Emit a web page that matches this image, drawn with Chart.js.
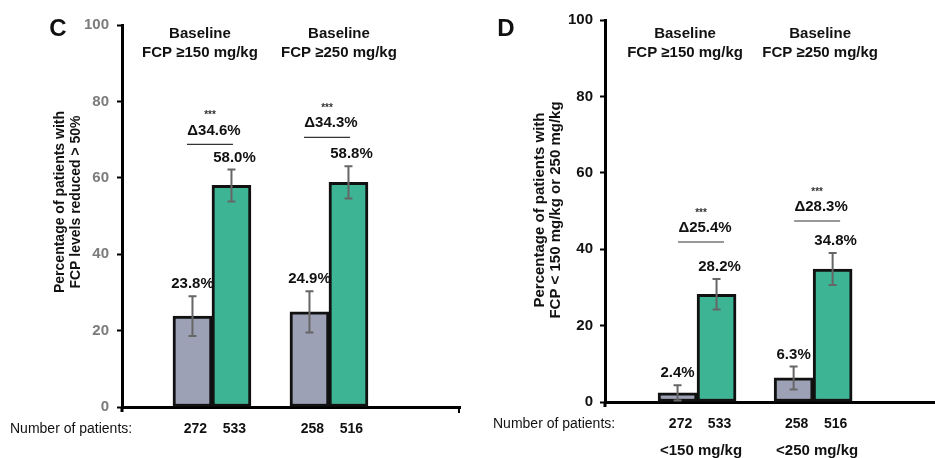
<!DOCTYPE html>
<html>
<head>
<meta charset="utf-8">
<script src="https://cdn.jsdelivr.net/npm/chart.js@4"></script>
<style>
  html, body { margin: 0; padding: 0; background: #fff; width: 935px; height: 458px; overflow: hidden; }
  canvas { position: absolute; top: 0; }
  #panelC { left: 0; }
  #panelD { left: 470px; }
</style>
</head>
<body>
<canvas id="panelC" width="470" height="458"></canvas>
<canvas id="panelD" width="465" height="458"></canvas>
<script>
const FONT = "'Liberation Sans', Arial, Helvetica, sans-serif";
const GREY_BAR = '#9da1b5';
const GREEN_BAR = '#3db595';

// ---- Panel C: FCP reduced by more than 50% ----
const groupsC = ['FCP ≥150 mg/kg', 'FCP ≥250 mg/kg'];
const placeboC = [23.8, 24.9];
const treatedC = [58.0, 58.8];
const placeboErrC = [5.2, 5.4];
const treatedErrC = [4.2, 4.2];
const deltaC = [34.6, 34.3];
const nPlaceboC = [272, 258];
const nTreatedC = [533, 516];

// ---- Panel D: FCP below 150 / 250 mg/kg ----
const groupsD = ['FCP ≥150 mg/kg', 'FCP ≥250 mg/kg'];
const placeboD = [2.4, 6.3];
const treatedD = [28.2, 34.8];
const placeboErrD = [2.0, 3.0];
const treatedErrD = [4.0, 4.2];
const deltaD = [25.4, 28.3];
const nPlaceboD = [272, 258];
const nTreatedD = [533, 516];
const targetsD = ['<150 mg/kg', '<250 mg/kg'];

const yTicks = [0, 20, 40, 60, 80, 100];

// Error bars, value labels, significance brackets and surrounding text
const decor = {
  id: 'decor',
  afterDatasetsDraw(chart, args, o) {
    const ctx = chart.ctx;
    const ys = chart.scales.y, xs = chart.scales.x;
    const area = chart.chartArea;
    const sets = [
      { bars: chart.getDatasetMeta(0).data, vals: o.placebo, errs: o.placeboErr, n: o.nPlacebo, dx: 0 },
      { bars: chart.getDatasetMeta(1).data, vals: o.treated, errs: o.treatedErr, n: o.nTreated, dx: 3 }
    ];
    ctx.save();
    ctx.textAlign = 'center';
    ctx.textBaseline = 'middle';

    sets.forEach(s => s.bars.forEach((b, i) => {
      const top = ys.getPixelForValue(s.vals[i] + s.errs[i]);
      const bot = ys.getPixelForValue(Math.max(0, s.vals[i] - s.errs[i]));
      ctx.strokeStyle = '#666';
      ctx.lineWidth = 2;
      ctx.beginPath();
      ctx.moveTo(b.x, top); ctx.lineTo(b.x, bot);
      ctx.moveTo(b.x - 4, top); ctx.lineTo(b.x + 4, top);
      ctx.moveTo(b.x - 4, bot); ctx.lineTo(b.x + 4, bot);
      ctx.stroke();

      ctx.fillStyle = '#111';
      ctx.font = 'bold 15px ' + FONT;
      ctx.fillText(s.vals[i].toFixed(1) + '%', b.x + s.dx, top - 12);

      ctx.font = 'bold 14px ' + FONT;
      ctx.fillText(String(s.n[i]), b.x + 3, area.bottom + 22);
    }));

    // significance brackets
    o.delta.forEach((d, i) => {
      const cx = xs.getPixelForValue(i) + o.bracketShift;
      const lineY = ys.getPixelForValue(o.treated[i] + o.treatedErr[i]) - o.bracketLift[i];
      ctx.strokeStyle = '#333';
      ctx.lineWidth = 1.2;
      ctx.beginPath();
      ctx.moveTo(cx - 23, lineY); ctx.lineTo(cx + 23, lineY);
      ctx.stroke();
      ctx.fillStyle = '#111';
      ctx.font = 'bold 15px ' + FONT;
      ctx.fillText('Δ' + d.toFixed(1) + '%', cx + 4, lineY - 14);
      ctx.fillStyle = '#333';
      ctx.font = 'bold 10px ' + FONT;
      ctx.fillText('***', cx, lineY - 29);
    });

    // group headers
    ctx.fillStyle = '#111';
    ctx.font = 'bold 15px ' + FONT;
    o.groups.forEach((g, i) => {
      const cx = xs.getPixelForValue(i) + o.headerShift[i];
      ctx.fillText('Baseline', cx, 34);
      ctx.fillText(g, cx, 53);
    });

    // target labels under the counts
    if (o.targets) {
      o.targets.forEach((t, i) => {
        ctx.fillText(t, xs.getPixelForValue(i) + 4, 451);
      });
    }

    // patient count caption
    ctx.textAlign = 'left';
    ctx.font = '14px ' + FONT;
    ctx.fillText('Number of patients:', area.left - 112, area.bottom + 22);

    // panel letter
    ctx.textAlign = 'center';
    ctx.font = 'bold 24px ' + FONT;
    ctx.fillText(o.letter, o.letterX, 29);

    // y axis title
    ctx.font = 'bold ' + o.titleSize + 'px ' + FONT;
    ctx.save();
    ctx.translate(o.titleX, o.titleY);
    ctx.rotate(-Math.PI / 2);
    ctx.fillText(o.title[0], 0, 0);
    ctx.fillText(o.title[1], 0, o.titleGap);
    ctx.restore();

    // y axis runs a little past the origin
    ctx.strokeStyle = '#000';
    ctx.lineWidth = 3;
    ctx.beginPath();
    ctx.moveTo(area.left, area.bottom);
    ctx.lineTo(area.left, area.bottom + 5);
    ctx.stroke();

    // closing tick on the x axis
    if (o.endTick) {
      ctx.lineWidth = 2;
      ctx.beginPath();
      ctx.moveTo(area.right - 1, area.bottom);
      ctx.lineTo(area.right - 1, area.bottom + 6);
      ctx.stroke();
    }
    ctx.restore();
  }
};

function makePanel(id, p) {
  const toPoints = vals => vals.map((v, i) => ({ x: i, y: v }));
  return new Chart(document.getElementById(id), {
    type: 'bar',
    data: {
      datasets: [
        { label: 'Placebo', data: toPoints(p.placebo), backgroundColor: GREY_BAR,
          borderColor: '#111', borderWidth: 3, borderSkipped: false },
        { label: 'Treated', data: toPoints(p.treated), backgroundColor: GREEN_BAR,
          borderColor: '#111', borderWidth: 3, borderSkipped: false }
      ]
    },
    options: {
      responsive: false,
      animation: false,
      barThickness: 39,
      layout: { padding: { left: 0, right: p.padRight, top: p.padTop, bottom: 0 } },
      scales: {
        x: {
          type: 'linear', min: p.xMin, max: p.xMax, offset: false,
          ticks: { display: false },
          grid: { display: false, offset: false },
          border: { display: true, color: '#000', width: 3 },
          afterFit: s => { s.height = p.xHeight; }
        },
        y: {
          min: 0, max: 100,
          afterBuildTicks: s => { s.ticks = yTicks.map(v => ({ value: v })); },
          ticks: { color: p.tickColor, padding: p.tickPad, font: { family: FONT, size: 15, weight: 'bold' } },
          grid: { drawOnChartArea: false, drawTicks: true, tickLength: 5, tickWidth: 2, color: '#000' },
          border: { display: true, color: '#000', width: 3 },
          afterFit: s => { s.width = p.yWidth; }
        }
      },
      plugins: {
        legend: { display: false },
        tooltip: { enabled: false },
        decor: p.decor
      }
    },
    plugins: [decor]
  });
}

makePanel('panelC', {
  placebo: placeboC, treated: treatedC,
  padRight: 10, padTop: 25, xHeight: 51, yWidth: 122,
  xMin: -0.769, xMax: 2.12, tickColor: '#7b7b7b', tickPad: 8,
  decor: {
    placebo: placeboC, treated: treatedC, placeboErr: placeboErrC, treatedErr: treatedErrC,
    nPlacebo: nPlaceboC, nTreated: nTreatedC, delta: deltaC, groups: groupsC,
    bracketShift: -2, bracketLift: [25, 29], headerShift: [-12, 10],
    letter: 'C', letterX: 58,
    title: ['Percentage of patients with', 'FCP levels reduced > 50%'],
    titleX: 60, titleY: 202, titleGap: 16, titleSize: 14, endTick: true
  }
});

makePanel('panelD', {
  placebo: placeboD, treated: treatedD,
  padRight: 0, padTop: 20, xHeight: 56, yWidth: 135,
  xMin: -0.793, xMax: 2.05, tickColor: '#111', tickPad: 7,
  decor: {
    placebo: placeboD, treated: treatedD, placeboErr: placeboErrD, treatedErr: treatedErrD,
    nPlacebo: nPlaceboD, nTreated: nTreatedD, delta: deltaD, groups: groupsD, targets: targetsD,
    bracketShift: 4, bracketLift: [37, 32], headerShift: [-12, 7],
    letter: 'D', letterX: 36,
    title: ['Percentage of patients with', 'FCP < 150 mg/kg or 250 mg/kg'],
    titleX: 70, titleY: 210, titleGap: 16, titleSize: 15, endTick: false
  }
});
</script>
</body>
</html>
